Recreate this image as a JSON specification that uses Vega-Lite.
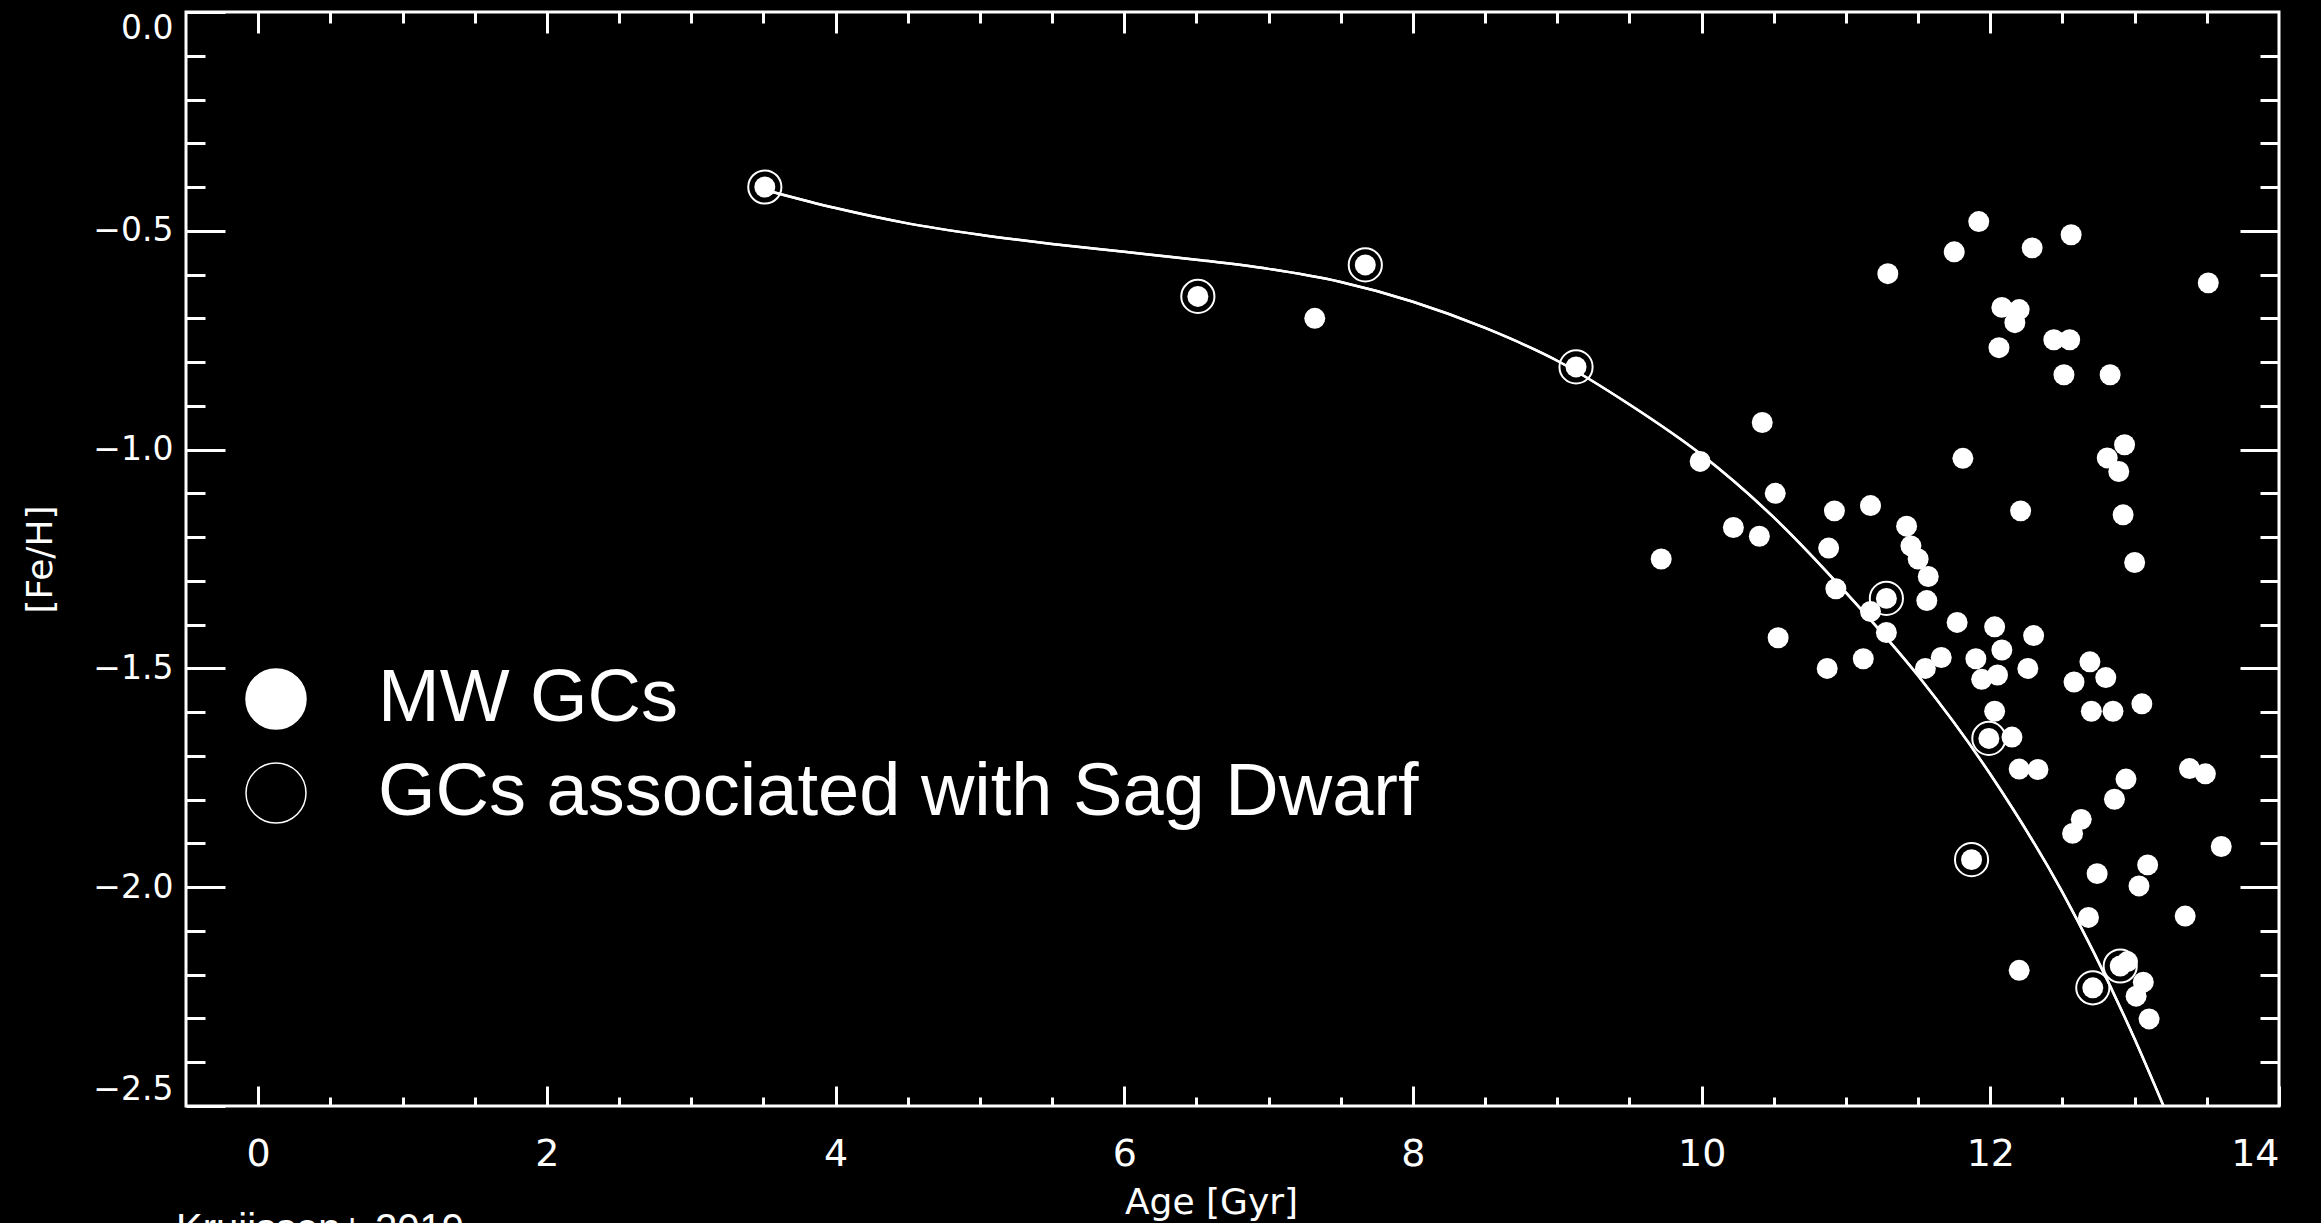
{
  "$schema": "https://vega.github.io/schema/vega-lite/v6.json",
  "autosize": {"type": "none"},
  "padding": {"left": 186, "top": 12, "right": 42, "bottom": 117},
  "width": 2093,
  "height": 1094,
  "background": "black",
  "config": {
    "view": {"stroke": "white", "strokeWidth": 3, "fill": "black"},
    "axis": {"grid": false, "domain": false, "tickColor": "white", "tickWidth": 3, "labelColor": "white", "titleColor": "white", "labelFont": "DejaVu Sans", "titleFont": "DejaVu Sans", "titleFontWeight": "normal"}
  },
  "title": {"text": "Kruijssen+ 2019", "orient": "bottom", "anchor": "start", "frame": "bounds", "font": "Liberation Sans", "fontSize": 40, "fontWeight": "normal", "color": "white", "offset": -10, "dx": 154, "baseline": "top"},
  "datasets": {
    "gcs": [
      {"age": 3.51, "feh": -0.40, "sag": true},
      {"age": 6.51, "feh": -0.65, "sag": true},
      {"age": 7.32, "feh": -0.70, "sag": false},
      {"age": 7.67, "feh": -0.578, "sag": true},
      {"age": 9.13, "feh": -0.811, "sag": true},
      {"age": 9.72, "feh": -1.25, "sag": false},
      {"age": 9.99, "feh": -1.027, "sag": false},
      {"age": 10.22, "feh": -1.178, "sag": false},
      {"age": 10.40, "feh": -1.198, "sag": false},
      {"age": 10.42, "feh": -0.938, "sag": false},
      {"age": 10.51, "feh": -1.10, "sag": false},
      {"age": 10.53, "feh": -1.43, "sag": false},
      {"age": 10.87, "feh": -1.50, "sag": false},
      {"age": 10.88, "feh": -1.225, "sag": false},
      {"age": 10.92, "feh": -1.14, "sag": false},
      {"age": 10.93, "feh": -1.318, "sag": false},
      {"age": 11.12, "feh": -1.478, "sag": false},
      {"age": 11.17, "feh": -1.128, "sag": false},
      {"age": 11.17, "feh": -1.37, "sag": false},
      {"age": 11.28, "feh": -1.34, "sag": true},
      {"age": 11.28, "feh": -1.418, "sag": false},
      {"age": 11.29, "feh": -0.598, "sag": false},
      {"age": 11.42, "feh": -1.175, "sag": false},
      {"age": 11.45, "feh": -1.22, "sag": false},
      {"age": 11.50, "feh": -1.25, "sag": false},
      {"age": 11.57, "feh": -1.29, "sag": false},
      {"age": 11.56, "feh": -1.345, "sag": false},
      {"age": 11.55, "feh": -1.50, "sag": false},
      {"age": 11.66, "feh": -1.475, "sag": false},
      {"age": 11.75, "feh": -0.548, "sag": false},
      {"age": 11.77, "feh": -1.395, "sag": false},
      {"age": 11.81, "feh": -1.02, "sag": false},
      {"age": 11.87, "feh": -1.937, "sag": true},
      {"age": 11.90, "feh": -1.478, "sag": false},
      {"age": 11.92, "feh": -0.479, "sag": false},
      {"age": 11.94, "feh": -1.525, "sag": false},
      {"age": 11.99, "feh": -1.66, "sag": true},
      {"age": 12.03, "feh": -1.405, "sag": false},
      {"age": 12.03, "feh": -1.598, "sag": false},
      {"age": 12.05, "feh": -1.515, "sag": false},
      {"age": 12.06, "feh": -0.767, "sag": false},
      {"age": 12.08, "feh": -1.458, "sag": false},
      {"age": 12.08, "feh": -0.675, "sag": false},
      {"age": 12.20, "feh": -0.68, "sag": false},
      {"age": 12.17, "feh": -0.71, "sag": false},
      {"age": 12.15, "feh": -1.657, "sag": false},
      {"age": 12.20, "feh": -1.73, "sag": false},
      {"age": 12.20, "feh": -2.19, "sag": false},
      {"age": 12.21, "feh": -1.14, "sag": false},
      {"age": 12.26, "feh": -1.50, "sag": false},
      {"age": 12.29, "feh": -0.539, "sag": false},
      {"age": 12.30, "feh": -1.425, "sag": false},
      {"age": 12.33, "feh": -1.731, "sag": false},
      {"age": 12.44, "feh": -0.749, "sag": false},
      {"age": 12.51, "feh": -0.829, "sag": false},
      {"age": 12.55, "feh": -0.749, "sag": false},
      {"age": 12.56, "feh": -0.509, "sag": false},
      {"age": 12.57, "feh": -1.877, "sag": false},
      {"age": 12.58, "feh": -1.531, "sag": false},
      {"age": 12.63, "feh": -1.845, "sag": false},
      {"age": 12.68, "feh": -2.069, "sag": false},
      {"age": 12.69, "feh": -1.485, "sag": false},
      {"age": 12.70, "feh": -1.598, "sag": false},
      {"age": 12.71, "feh": -2.23, "sag": true},
      {"age": 12.74, "feh": -1.969, "sag": false},
      {"age": 12.80, "feh": -1.521, "sag": false},
      {"age": 12.81, "feh": -1.019, "sag": false},
      {"age": 12.83, "feh": -0.829, "sag": false},
      {"age": 12.85, "feh": -1.598, "sag": false},
      {"age": 12.86, "feh": -1.799, "sag": false},
      {"age": 12.89, "feh": -1.05, "sag": false},
      {"age": 12.90, "feh": -2.18, "sag": true},
      {"age": 12.92, "feh": -1.149, "sag": false},
      {"age": 12.93, "feh": -0.989, "sag": false},
      {"age": 12.94, "feh": -1.753, "sag": false},
      {"age": 12.95, "feh": -2.17, "sag": false},
      {"age": 13.00, "feh": -1.258, "sag": false},
      {"age": 13.01, "feh": -2.249, "sag": false},
      {"age": 13.03, "feh": -1.997, "sag": false},
      {"age": 13.05, "feh": -1.581, "sag": false},
      {"age": 13.06, "feh": -2.217, "sag": false},
      {"age": 13.09, "feh": -1.949, "sag": false},
      {"age": 13.10, "feh": -2.301, "sag": false},
      {"age": 13.35, "feh": -2.066, "sag": false},
      {"age": 13.38, "feh": -1.729, "sag": false},
      {"age": 13.49, "feh": -1.741, "sag": false},
      {"age": 13.51, "feh": -0.619, "sag": false},
      {"age": 13.60, "feh": -1.907, "sag": false}
    ],
    "curve": [
      {"age": 3.55, "feh": -0.41},
      {"age": 4.0, "feh": -0.448},
      {"age": 4.5, "feh": -0.483},
      {"age": 5.0, "feh": -0.509},
      {"age": 5.5, "feh": -0.53},
      {"age": 6.0, "feh": -0.548},
      {"age": 6.5, "feh": -0.566},
      {"age": 7.0, "feh": -0.587},
      {"age": 7.5, "feh": -0.617},
      {"age": 8.0, "feh": -0.662},
      {"age": 8.5, "feh": -0.722},
      {"age": 9.0, "feh": -0.797},
      {"age": 9.5, "feh": -0.897},
      {"age": 10.0, "feh": -1.012},
      {"age": 10.5, "feh": -1.155},
      {"age": 11.0, "feh": -1.327},
      {"age": 11.5, "feh": -1.517},
      {"age": 12.0, "feh": -1.742},
      {"age": 12.5, "feh": -2.012},
      {"age": 13.0, "feh": -2.347},
      {"age": 13.2, "feh": -2.5}
    ]
  },
  "resolve": {"axis": {"x": "independent", "y": "independent"}},
  "layer": [
    {
      "data": {"name": "gcs"},
      "transform": [{"filter": "datum.sag"}],
      "mark": {"type": "point", "filled": true, "size": 1100, "stroke": "white", "strokeWidth": 2, "strokeOpacity": 1, "opacity": 1},
      "encoding": {
        "x": {"field": "age", "type": "quantitative", "scale": {"domain": [-0.5, 14], "nice": false, "zero": false},
          "axis": {"orient": "bottom", "values": [0, 2, 4, 6, 8, 10, 12, 14], "format": "d", "tickSize": -20, "labelPadding": 49, "labelFontSize": 38, "title": "Age [Gyr]", "titleFontSize": 36, "titleX": 1025, "titleY": 96, "titleBaseline": "middle", "titleAlign": "center"}},
        "y": {"field": "feh", "type": "quantitative", "scale": {"domain": [-2.5, 0], "nice": false, "zero": false},
          "axis": {"orient": "left", "values": [-2.5, -2, -1.5, -1, -0.5, 0], "format": ".1f", "tickSize": -39, "labelPadding": 52, "labelFontSize": 33, "labelFlush": true, "title": "[Fe/H]", "titleFontSize": 36, "titleAngle": -90, "titleX": -146, "titleY": 547, "titleBaseline": "middle", "titleAlign": "center"}},
        "fill": {"datum": "GCs associated with Sag Dwarf", "type": "nominal",
          "scale": {"domain": ["MW GCs", "GCs associated with Sag Dwarf"], "range": ["white", "black"]},
          "legend": {"title": null, "orient": "none", "legendX": 53, "legendY": 650, "padding": 0, "rowPadding": 20, "symbolType": "circle", "symbolSize": 3600, "labelFont": "Liberation Sans", "labelFontSize": 74, "labelColor": "white", "labelOffset": 65, "labelLimit": 2000,
            "encode": {"symbols": {"update": {"stroke": {"value": "white"}, "strokeWidth": {"value": 3}, "size": {"value": 3600}, "opacity": {"value": 1}}}}}}
      }
    },
    {
      "data": {"name": "gcs"},
      "mark": {"type": "point", "filled": true, "size": 440, "opacity": 1},
      "encoding": {
        "x": {"field": "age", "type": "quantitative", "axis": {"orient": "bottom", "values": [0, 0.5, 1, 1.5, 2, 2.5, 3, 3.5, 4, 4.5, 5, 5.5, 6, 6.5, 7, 7.5, 8, 8.5, 9, 9.5, 10, 10.5, 11, 11.5, 12, 12.5, 13, 13.5], "tickSize": -9, "labels": false, "title": null}},
        "y": {"field": "feh", "type": "quantitative", "axis": {"orient": "left", "values": [-2.4, -2.3, -2.2, -2.1, -1.9, -1.8, -1.7, -1.6, -1.4, -1.3, -1.2, -1.1, -0.9, -0.8, -0.7, -0.6, -0.4, -0.3, -0.2, -0.1], "tickSize": -19, "labels": false, "title": null}},
        "fill": {"datum": "MW GCs", "type": "nominal"}
      }
    },
    {
      "data": {"name": "curve"},
      "mark": {"type": "line", "color": "white", "strokeWidth": 2.5, "interpolate": "monotone"},
      "encoding": {
        "x": {"field": "age", "type": "quantitative", "axis": {"orient": "top", "values": [0, 2, 4, 6, 8, 10, 12], "tickSize": -21, "labels": false, "title": null}},
        "y": {"field": "feh", "type": "quantitative", "axis": {"orient": "right", "values": [-2, -1.5, -1, -0.5], "tickSize": -39, "labels": false, "title": null}}
      }
    },
    {
      "data": {"name": "curve"},
      "mark": {"type": "line", "color": "white", "strokeWidth": 2.5, "interpolate": "monotone"},
      "encoding": {
        "x": {"field": "age", "type": "quantitative", "axis": {"orient": "top", "values": [0.5, 1, 1.5, 2.5, 3, 3.5, 4.5, 5, 5.5, 6.5, 7, 7.5, 8.5, 9, 9.5, 10.5, 11, 11.5, 12.5, 13, 13.5], "tickSize": -11, "labels": false, "title": null}},
        "y": {"field": "feh", "type": "quantitative", "axis": {"orient": "right", "values": [-2.4, -2.3, -2.2, -2.1, -1.9, -1.8, -1.7, -1.6, -1.4, -1.3, -1.2, -1.1, -0.9, -0.8, -0.7, -0.6, -0.4, -0.3, -0.2, -0.1], "tickSize": -19, "labels": false, "title": null}}
      }
    }
  ]
}
